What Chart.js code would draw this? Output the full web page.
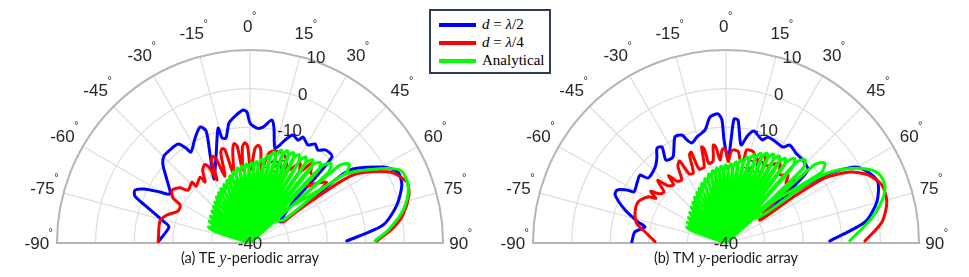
<!DOCTYPE html>
<html>
<head>
<meta charset="utf-8">
<script src="https://cdn.jsdelivr.net/npm/chart.js@4.4.1/dist/chart.umd.min.js"></script>
<style>
  body { margin: 0; background: #fff; width: 969px; height: 277px; position: relative; overflow: hidden; }
  canvas { position: absolute; top: 0; }
  #teChart { left: 0; }
  #tmChart { left: 484px; }
  .caption { position: absolute; top: 249px; width: 300px; text-align: center; font: 14.5px Lato, "Noto Sans", sans-serif; line-height: 18px; color: #1a1a1a; }
  .caption i { font-family: "Liberation Serif", serif; font-size: 16px; }
  #legend { position: absolute; left: 429px; top: 9px; width: 122px; height: 65px; box-sizing: border-box; border: 2px solid #2d3b57; background: #fff; }
  #legend .row { position: absolute; left: 0; height: 18px; line-height: 18px; width: 118px; font: 15px "Liberation Serif", serif; color: #000; }
  #legend .sw { position: absolute; left: 8px; top: 7px; width: 37px; height: 4px; }
  #legend .tx { position: absolute; left: 51px; top: 0; white-space: nowrap; }
</style>
</head>
<body>
<canvas id="teChart" width="484" height="277"></canvas>
<canvas id="tmChart" width="485" height="277"></canvas>
<div class="caption" style="left:100px">(a) TE <i>y</i>-periodic array</div>
<div class="caption" style="left:576px">(b) TM <i>y</i>-periodic array</div>
<div id="legend">
  <div class="row" style="top:5px"><span class="sw" style="background:#0000ff"></span><span class="tx"><i>d</i> = <i>λ</i>/2</span></div>
  <div class="row" style="top:22.7px"><span class="sw" style="background:#ff0000"></span><span class="tx"><i>d</i> = <i>λ</i>/4</span></div>
  <div class="row" style="top:41px"><span class="sw" style="background:#00ff00"></span><span class="tx">Analytical</span></div>
</div>
<script>
// polar axes: angle in degrees (0 = up, clockwise), radius in dB
const angleTicks = [-90, -75, -60, -45, -30, -15, 0, 15, 30, 45, 60, 75, 90];
const radialTicks = [-40, -30, -20, -10, 0, 10];
const rMin = -40, rMax = 10;
const radialLabelAngle = 20;
const seriesNames = ['d = λ/2', 'd = λ/4', 'Analytical'];
const seriesColors = ['#0000ff', '#ff0000', '#00ff00'];

// (a) TE, [theta, dB]
const teBlue = [
  [-88.7,-16.4],[-78.8,-18.6],[-75.8,-16.8],[-70.7,-11.7],[-67.8,-7.8],[-65.3,-7.2],[-63.0,-9.2],[-60.5,-13.2],[-58.5,-15.7],
  [-52.8,-13.0],[-48.1,-9.7],[-44.7,-8.3],[-40.7,-8.2],[-36.0,-8.3],[-34.0,-10.3],[-33.0,-11.9],[-27.6,-9.3],[-23.3,-7.3],
  [-21.4,-8.8],[-24.4,-15.0],[-29.4,-21.0],[-21.1,-15.6],[-15.5,-9.1],[-14.9,-11.8],[-12.9,-12.1],[-9.9,-8.4],[-6.7,-6.9],
  [-3.0,-5.5],[-1.3,-6.1],[0,-8.9],[3.5,-10.2],[6.4,-9.8],[10.1,-7.6],[11.8,-9.6],[14.7,-14.6],[17.0,-13.4],[18.8,-11.8],
  [21.7,-9.9],[25.0,-10.6],[26.6,-9.3],[30.6,-10.5],[33.3,-9.3],[36.2,-10.2],[38.9,-9.0],[41.6,-8.8],[43.6,-9.2],
  [45.0,-16.2],[46.3,-23.9],[55.0,-30.5],[55.0,-24.2],[54.0,-16.6],[53.9,-7.9],[60.3,-0.3],[64.4,2.5],[69.1,2.1],
  [75.5,-0.7],[82.3,-5.2],[88.8,-14.9]
];
const teRed = [
  [-89.4,-16.2],[-76.3,-16.0],[-71.4,-17.3],[-66.0,-19.6],[-61.5,-19.4],[-59.7,-16.9],[-55.8,-15.6],[-51.8,-16.9],[-49.5,-18.9],
  [-43.6,-18.2],[-43.5,-19.7],[-37.1,-18.6],[-36.4,-20.4],
  [-33,-17.5],[-30,-16.5],[-28.5,-17.5],[-27.6,-21.6],
  [-25,-16.5],[-23.5,-15.5],[-22,-16.5],[-20.5,-21.5],
  [-18,-15.5],[-16.5,-14.5],[-15,-15],[-13.5,-21.5],
  [-10.5,-15.5],[-9,-13.9],[-7.5,-14.8],[-6,-21],
  [-4.5,-15],[-3,-14],[-1.5,-14.8],[0.5,-21],
  [3,-15.5],[4.8,-14.6],[6.5,-15.5],[9,-21],
  [11.5,-16.5],[13.5,-15.5],[15.5,-15.3],[19,-15.2],[22.9,-16.1],
  [27,-19.0],[32.1,-15.6],[35,-17.5],[37.7,-13.9],[41,-16],[43.7,-16.2],[44.3,-19.6],[48.2,-16.8],[51.6,-14.7],[53.1,-17.9],
  [55,-23],[57.5,-29.9],
  [55.7,-21.2],[56.6,-8.0],[63.1,0.7],[68.8,3.6],[73.2,3.0],[79.6,0.3],[84.0,-2.7],[89.1,-7.1]
];
const teGreen = [
  [0,-40],
  [-71.5,-30.4],[-69,-28.4],[-66.5,-30.4],[0,-40],
  [-64,-30],[-62,-28.0],[-60,-30],[0,-40],
  [-58,-29.6],[-56,-27.6],[-54,-29.6],[0,-40],
  [-52,-29.1],[-50,-27.1],[-48,-29.1],[0,-40],
  [-47,-28.6],[-45,-26.6],[-43,-28.6],[0,-40],
  [-42.5,-28],[-40.5,-26.0],[-38.5,-28],[0,-40],
  [-38,-27.2],[-36,-25.2],[-34,-27.2],[0,-40],
  [-34,-26.6],[-32,-24.6],[-30,-26.6],[0,-40],
  [-30,-26],[-28,-24.0],[-26,-26],[0,-40],
  [-26,-25.4],[-24,-23.4],[-22,-25.4],[0,-40],
  [-22,-24.6],[-20,-22.6],[-18,-24.6],[0,-40],
  [-18.5,-23.8],[-16.5,-21.8],[-14.5,-23.8],[0,-40],
  [-15,-23],[-13,-21.0],[-11,-23],[0,-40],
  [-11.5,-22.3],[-9.5,-20.3],[-7.5,-22.3],[0,-40],
  [-8,-21.9],[-6,-19.9],[-4,-21.9],[0,-40],
  [-4.5,-21.5],[-2.5,-19.5],[-0.5,-21.5],[0,-40],
  [-1,-21.2],[1,-19.2],[3,-21.2],[0,-40],
  [2.5,-20.8],[4.5,-18.8],[6.5,-20.8],[0,-40],
  [6,-20],[8,-18.0],[10,-20],[0,-40],
  [9.5,-18.9],[11.5,-16.9],[13.5,-18.9],[0,-40],
  [13,-17.6],[15,-15.6],[17,-17.6],[0,-40],
  [16.5,-16.6],[18.5,-14.6],[20.5,-16.6],[0,-40],
  [20,-16.2],[22,-14.2],[24,-16.2],[0,-40],
  [23.5,-16],[25.5,-14.0],[27.5,-16],[0,-40],
  [27,-15.8],[29,-13.8],[31,-15.8],[0,-40],
  [31,-15.4],[33,-13.4],[35,-15.4],[0,-40],
  [34.8,-15],[37,-13.0],[39.2,-15],[0,-40],
  [38.7,-14.3],[41,-12.3],[43.3,-14.3],[0,-40],
  [43,-12.8],[45.5,-10.6],[48,-12.8],[0,-40],
  [49,-9.5],[51.5,-7.2],[54,-9.5],[41,-32],
  [55.4,-29.5],[53.3,-18.4],[53.9,-10.1],[58.0,-4.3],[64.1,3.2],[70.4,3.5],[77.9,0.6],[84.6,-4.0],[89.0,-7.6]
];

// (b) TM, [theta, dB]
const tmBlue = [
  [-89.4,-15.6],[-83.1,-16.2],[-78.8,-18.6],[-76.6,-16.6],[-71.9,-12.5],[-66.6,-8.7],[-64.1,-8.6],[-61.8,-10.9],[-61.0,-12.7],
  [-56.0,-12.2],[-51.7,-11.6],[-50.2,-13.7],[-43.0,-13.1],[-39.1,-11.6],[-36.0,-9.6],[-33.7,-10.1],[-35.9,-13.5],[-31.6,-13.8],
  [-25.7,-9.5],[-22.2,-9.8],[-20.7,-11.5],[-18.8,-12.6],[-15.3,-11.5],[-10.5,-10.2],[-7.2,-7.1],[-3.5,-6.5],[-1.9,-8.1],
  [-1.1,-13.3],[1.4,-18.5],[2.8,-13.3],[3.7,-7.8],[5.6,-8.0],[8.7,-14.3],[11.5,-11.5],[14.0,-10.1],[19.3,-11.7],[21.6,-10.5],
  [26.3,-10.8],[30.7,-11.1],[33.1,-9.7],[37.9,-10.5],[42.9,-10.7],[48.3,-11.6],[50.4,-18.5],[52.2,-23.9],[54.8,-29.2],
  [53.1,-19.3],[55.5,-8.9],[59.5,-1.2],[63.4,1.1],[68.1,2.4],[74.8,0.5],[81.4,-3.6],[88.9,-13.1]
];
const tmRed = [
  [-88.9,-21.6],[-82.1,-18.8],[-77.6,-16.3],[-71.0,-15.1],[-64.8,-14.9],[-59.2,-16.6],[-57.5,-18.5],[-55.5,-16.3],[-53.5,-18.6],
  [-50.5,-19.2],[-47.5,-16.0],[-45.5,-18.8],[-42,-19.7],[-40.5,-17.0],[-38.5,-19.5],[-35,-20],[-32,-16.5],[-29.5,-15.6],
  [-28,-19.7],[-25,-20],[-22.5,-15.3],[-21,-14.8],[-20,-19.6],[-16,-19.5],[-14.2,-14.3],[-13,-15],[-12.2,-18.9],[-9,-18.5],
  [-7.4,-14.4],[-6,-15],[-4.1,-18.4],[-2.5,-16],[-1.6,-15.5],[0,-16],[1.6,-18.9],[3,-16.5],[4.5,-15.8],[7.7,-16.1],[9.5,-18],
  [12,-18.5],[12.5,-15.3],[16.6,-15.3],[19,-16.5],[21.1,-17.0],[23.9,-15.1],[27,-17.5],[30.5,-16.5],[34.0,-15.0],[38,-17.5],
  [42.4,-16.2],[45,-18],[47.6,-15.8],[49.2,-19.8],[49.2,-25],[55.9,-29.4],
  [55.7,-19.3],[56.7,-9.3],[60.2,-3.0],[64.4,0.8],[69.6,3.1],[75.7,3.0],[82.3,0.8],[89.2,-4.0]
];
const tmGreen = [
  [0,-40],
  [-70.5,-31],[-68,-29.0],[-65.5,-31],[0,-40],
  [-64,-30.6],[-62,-28.6],[-60,-30.6],[0,-40],
  [-58,-30.2],[-56,-28.2],[-54,-30.2],[0,-40],
  [-52,-29.7],[-50,-27.7],[-48,-29.7],[0,-40],
  [-46,-29.1],[-44,-27.1],[-42,-29.1],[0,-40],
  [-41,-28.4],[-39,-26.4],[-37,-28.4],[0,-40],
  [-36.5,-27.6],[-34.5,-25.6],[-32.5,-27.6],[0,-40],
  [-32,-26.9],[-30,-24.9],[-28,-26.9],[0,-40],
  [-28,-26.2],[-26,-24.2],[-24,-26.2],[0,-40],
  [-24,-25.3],[-22,-23.3],[-20,-25.3],[0,-40],
  [-20,-24.4],[-18,-22.4],[-16,-24.4],[0,-40],
  [-16,-23.6],[-14,-21.6],[-12,-23.6],[0,-40],
  [-12.5,-22.9],[-10.5,-20.9],[-8.5,-22.9],[0,-40],
  [-9,-22.4],[-7,-20.4],[-5,-22.4],[0,-40],
  [-5.5,-22.1],[-3.5,-20.1],[-1.5,-22.1],[0,-40],
  [-2,-21.8],[0,-19.8],[2,-21.8],[0,-40],
  [1.5,-21.4],[3.5,-19.4],[5.5,-21.4],[0,-40],
  [5,-20.8],[7,-18.8],[9,-20.8],[0,-40],
  [8.5,-20],[10.5,-18.0],[12.5,-20],[0,-40],
  [12,-19],[14,-17.0],[16,-19],[0,-40],
  [15.5,-18],[17.5,-16.0],[19.5,-18],[0,-40],
  [19,-17.1],[21,-15.1],[23,-17.1],[0,-40],
  [22.5,-16.4],[24.5,-14.4],[26.5,-16.4],[0,-40],
  [26,-15.9],[28,-13.9],[30,-15.9],[0,-40],
  [29.5,-15.6],[31.5,-13.6],[33.5,-15.6],[0,-40],
  [33,-15.2],[35,-13.2],[37,-15.2],[0,-40],
  [36.7,-14],[39,-11.8],[41.3,-14],[0,-40],
  [41,-12.5],[43.5,-10.3],[46,-12.5],[0,-40],
  [48.5,-9.4],[51,-7.1],[53.5,-9.4],[37.6,-31.9],
  [52.3,-28.9],[53.7,-14.6],[56.0,-7.0],[61.2,0.1],[65.4,3.4],[70.5,3.7],[75.1,1.7],[80.4,-1.7],[88.9,-7.9]
];

function toXY(pairs) {
  return pairs.map(([t, db]) => {
    const r = Math.max(db - rMin, 0);
    const a = t * Math.PI / 180;
    return { x: r * Math.sin(a), y: r * Math.cos(a) };
  });
}

const polarGrid = {
  id: 'polarGrid',
  beforeDatasetsDraw(chart) {
    const { ctx, scales: { x, y } } = chart;
    const cx = x.getPixelForValue(0), cy = y.getPixelForValue(0);
    const rad = v => x.getPixelForValue(v - rMin) - cx;
    const R = rad(rMax);
    ctx.save();
    ctx.strokeStyle = '#dddddd';
    ctx.lineWidth = 1.2;
    radialTicks.slice(1, -1).forEach(v => {
      ctx.beginPath();
      ctx.arc(cx, cy, rad(v), Math.PI, 2 * Math.PI);
      ctx.stroke();
    });
    angleTicks.slice(1, -1).forEach(a => {
      const t = a * Math.PI / 180;
      ctx.beginPath();
      ctx.moveTo(cx, cy);
      ctx.lineTo(cx + R * Math.sin(t), cy - R * Math.cos(t));
      ctx.stroke();
    });
    ctx.strokeStyle = '#b5b5b5';
    ctx.lineWidth = 2;
    ctx.beginPath();
    ctx.arc(cx, cy, R, Math.PI, 2 * Math.PI);
    ctx.closePath();
    ctx.stroke();

    // angle labels with raised degree sign
    ctx.fillStyle = '#262626';
    ctx.textBaseline = 'middle';
    ctx.textAlign = 'left';
    angleTicks.forEach(a => {
      const t = a * Math.PI / 180;
      const r = 211 + 6 * Math.cos(t);
      const gx = cx + r * Math.sin(t), gy = cy - r * Math.cos(t) + 1;
      const txt = String(a);
      ctx.font = '17px "Liberation Sans", Arial, sans-serif';
      const w = ctx.measureText(txt).width;
      ctx.font = '11px "Liberation Sans", Arial, sans-serif';
      const dw = ctx.measureText('°').width;
      const x0 = gx - (w + dw) / 2;
      ctx.font = '17px "Liberation Sans", Arial, sans-serif';
      ctx.fillText(txt, x0, gy);
      ctx.font = '11px "Liberation Sans", Arial, sans-serif';
      ctx.fillText('°', x0 + w - 0.5, gy - 11);
    });

    // radial labels
    ctx.font = '17px "Liberation Sans", Arial, sans-serif';
    ctx.textAlign = 'center';
    const ta = radialLabelAngle * Math.PI / 180;
    radialTicks.slice(1).forEach(v => {
      const r = rad(v);
      ctx.fillText(String(v), cx + r * Math.sin(ta), cy - r * Math.cos(ta) - 3);
    });
    ctx.restore();
  },
  afterDatasetsDraw(chart) {
    const { ctx, scales: { x, y } } = chart;
    ctx.save();
    ctx.fillStyle = '#262626';
    ctx.font = '17px "Liberation Sans", Arial, sans-serif';
    ctx.textAlign = 'center';
    ctx.textBaseline = 'middle';
    ctx.fillText(String(rMin), x.getPixelForValue(0), y.getPixelForValue(0) + 1);
    ctx.restore();
  }
};

function makePolar(id, series, padLeft, padRight) {
  return new Chart(document.getElementById(id), {
    type: 'scatter',
    data: {
      datasets: series.map((s, i) => ({
        label: seriesNames[i],
        data: toXY(s),
        showLine: true,
        borderColor: seriesColors[i],
        borderWidth: 3,
        pointRadius: 0,
        tension: i === 2 ? 0.3 : 0.25,
        borderJoinStyle: 'round',
        borderCapStyle: 'round',
        order: 2 - i
      }))
    },
    options: {
      responsive: false,
      animation: false,
      layout: { padding: { left: padLeft, right: padRight, top: 50, bottom: 34 } },
      scales: {
        x: { type: 'linear', min: -(rMax - rMin), max: rMax - rMin, display: false },
        y: { type: 'linear', min: 0, max: rMax - rMin, display: false }
      },
      plugins: { legend: { display: false }, tooltip: { enabled: false } }
    },
    plugins: [polarGrid]
  });
}

makePolar('teChart', [teBlue, teRed, teGreen], 57, 41);
makePolar('tmChart', [tmBlue, tmRed, tmGreen], 49, 50);
</script>
</body>
</html>
